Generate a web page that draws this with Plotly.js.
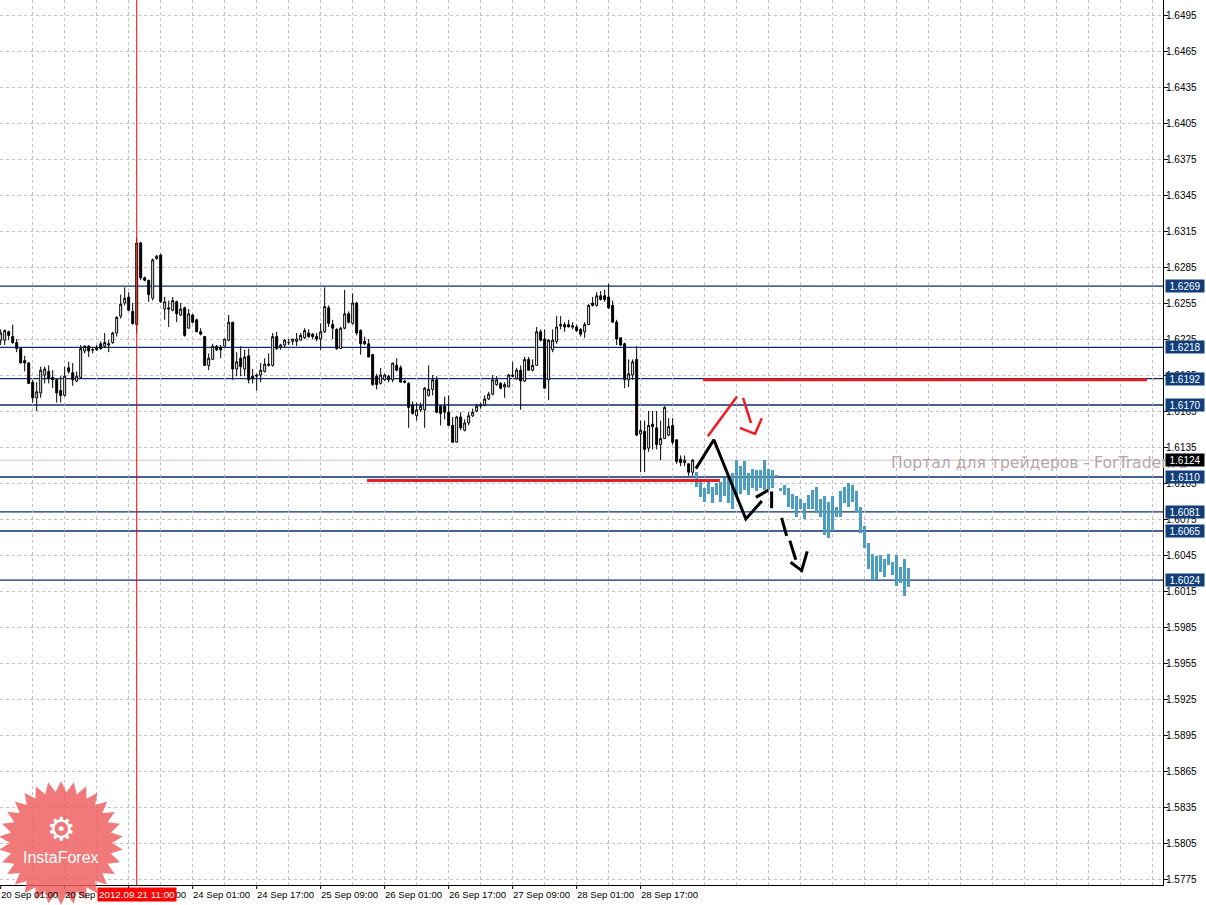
<!DOCTYPE html>
<html>
<head>
<meta charset="utf-8">
<script src="https://cdn.plot.ly/plotly-3.0.1.min.js"></script>
<style>html,body{margin:0;padding:0;background:#fff;}#chart{width:1206px;height:905px;}</style>
</head>
<body>
<div id="chart"></div>
<script>
// ---------- DATA (GBPUSD H1, 20–28 Sep 2012) ----------
const openP = [1.6224,1.6224,1.6231,1.6227,1.6222,1.6217,1.6207,1.6205,1.6189,1.6176,
1.6180,1.6195,1.6198,1.6193,1.6191,1.6182,1.6178,1.6201,1.6197,1.6190,
1.6193,1.6215,1.6219,1.6216,1.6216,1.6221,1.6219,1.6220,1.6222,1.6230,
1.6244,1.6255,1.6260,1.6248,1.6237,1.6305,1.6276,1.6274,1.6259,1.6292,
1.6295,1.6250,1.6251,1.6249,1.6256,1.6245,1.6251,1.6234,1.6245,1.6241,
1.6231,1.6227,1.6203,1.6208,1.6219,1.6218,1.6219,1.6224,1.6239,1.6200,
1.6209,1.6200,1.6211,1.6194,1.6194,1.6195,1.6198,1.6203,1.6203,1.6227,
1.6218,1.6220,1.6222,1.6223,1.6223,1.6224,1.6226,1.6230,1.6229,1.6227,
1.6225,1.6231,1.6251,1.6237,1.6233,1.6217,1.6234,1.6246,1.6238,1.6255,
1.6232,1.6223,1.6221,1.6212,1.6194,1.6188,1.6191,1.6194,1.6191,1.6203,
1.6201,1.6190,1.6188,1.6170,1.6161,1.6166,1.6166,1.6178,1.6183,1.6191,
1.6169,1.6169,1.6164,1.6153,1.6139,1.6160,1.6149,1.6155,1.6161,1.6165,
1.6169,1.6170,1.6175,1.6179,1.6187,1.6188,1.6185,1.6185,1.6195,1.6192,
1.6199,1.6190,1.6208,1.6199,1.6203,1.6231,1.6225,1.6191,1.6216,1.6223,
1.6237,1.6237,1.6237,1.6236,1.6235,1.6233,1.6231,1.6237,1.6255,1.6253,
1.6261,1.6261,1.6260,1.6253,1.6239,1.6226,1.6221,1.6191,1.6195,1.6208,
1.6146,1.6148,1.6134,1.6154,1.6151,1.6137,1.6142,1.6145,1.6153,1.6141,
1.6125,1.6122,1.6121,1.6114];
const highP = [1.6233,1.6233,1.6232,1.6237,1.6225,1.6218,1.6211,1.6206,1.6191,1.6189,
1.6202,1.6202,1.6203,1.6199,1.6192,1.6194,1.6202,1.6206,1.6205,1.6198,
1.6220,1.6220,1.6220,1.6218,1.6220,1.6223,1.6230,1.6224,1.6231,1.6244,
1.6262,1.6268,1.6264,1.6255,1.6309,1.6306,1.6277,1.6274,1.6292,1.6295,
1.6296,1.6260,1.6257,1.6260,1.6257,1.6255,1.6252,1.6250,1.6246,1.6242,
1.6234,1.6227,1.6213,1.6221,1.6220,1.6220,1.6225,1.6245,1.6239,1.6214,
1.6219,1.6216,1.6217,1.6200,1.6196,1.6205,1.6209,1.6213,1.6230,1.6231,
1.6221,1.6225,1.6225,1.6225,1.6230,1.6230,1.6234,1.6233,1.6230,1.6230,
1.6238,1.6268,1.6253,1.6241,1.6234,1.6235,1.6266,1.6248,1.6263,1.6256,
1.6233,1.6227,1.6225,1.6212,1.6196,1.6201,1.6196,1.6195,1.6205,1.6209,
1.6203,1.6191,1.6189,1.6173,1.6172,1.6172,1.6185,1.6203,1.6195,1.6194,
1.6170,1.6177,1.6178,1.6160,1.6161,1.6164,1.6158,1.6164,1.6167,1.6171,
1.6172,1.6178,1.6181,1.6195,1.6194,1.6189,1.6189,1.6196,1.6206,1.6201,
1.6203,1.6210,1.6210,1.6208,1.6235,1.6233,1.6233,1.6225,1.6233,1.6244,
1.6244,1.6239,1.6241,1.6239,1.6237,1.6234,1.6239,1.6254,1.6260,1.6264,
1.6265,1.6266,1.6271,1.6257,1.6241,1.6226,1.6222,1.6208,1.6208,1.6219,
1.6157,1.6157,1.6165,1.6165,1.6165,1.6157,1.6169,1.6159,1.6159,1.6141,
1.6128,1.6128,1.6121,1.6125];
const lowP = [1.6220,1.6220,1.6224,1.6221,1.6214,1.6205,1.6198,1.6188,1.6172,1.6165,
1.6176,1.6188,1.6188,1.6184,1.6172,1.6172,1.6177,1.6196,1.6186,1.6189,
1.6192,1.6213,1.6210,1.6213,1.6215,1.6216,1.6218,1.6214,1.6221,1.6227,
1.6242,1.6253,1.6248,1.6237,1.6230,1.6274,1.6273,1.6256,1.6257,1.6291,
1.6255,1.6241,1.6235,1.6248,1.6239,1.6244,1.6227,1.6234,1.6238,1.6231,
1.6228,1.6203,1.6199,1.6208,1.6215,1.6209,1.6219,1.6223,1.6191,1.6194,
1.6194,1.6194,1.6188,1.6188,1.6182,1.6189,1.6197,1.6202,1.6202,1.6216,
1.6216,1.6218,1.6220,1.6220,1.6219,1.6224,1.6225,1.6226,1.6225,1.6223,
1.6216,1.6230,1.6235,1.6225,1.6216,1.6217,1.6233,1.6238,1.6237,1.6228,
1.6212,1.6220,1.6210,1.6186,1.6183,1.6187,1.6190,1.6189,1.6189,1.6198,
1.6189,1.6188,1.6151,1.6162,1.6157,1.6164,1.6151,1.6177,1.6178,1.6163,
1.6153,1.6158,1.6153,1.6139,1.6139,1.6149,1.6148,1.6153,1.6160,1.6164,
1.6167,1.6169,1.6174,1.6178,1.6186,1.6183,1.6176,1.6185,1.6193,1.6191,
1.6166,1.6189,1.6199,1.6198,1.6203,1.6223,1.6184,1.6174,1.6214,1.6221,
1.6233,1.6231,1.6235,1.6233,1.6231,1.6227,1.6226,1.6237,1.6252,1.6252,
1.6257,1.6256,1.6250,1.6239,1.6220,1.6219,1.6184,1.6185,1.6191,1.6144,
1.6114,1.6114,1.6131,1.6133,1.6133,1.6124,1.6142,1.6144,1.6137,1.6121,
1.6119,1.6119,1.6111,1.6111];
const closeP = [1.6230,1.6232,1.6228,1.6222,1.6217,1.6205,1.6205,1.6188,1.6176,1.6181,
1.6199,1.6200,1.6192,1.6191,1.6180,1.6178,1.6194,1.6198,1.6191,1.6194,
1.6217,1.6219,1.6215,1.6216,1.6218,1.6217,1.6222,1.6221,1.6230,1.6243,
1.6254,1.6259,1.6249,1.6238,1.6305,1.6276,1.6274,1.6262,1.6291,1.6294,
1.6256,1.6256,1.6250,1.6257,1.6246,1.6250,1.6228,1.6246,1.6239,1.6231,
1.6229,1.6203,1.6209,1.6219,1.6216,1.6216,1.6225,1.6239,1.6200,1.6206,
1.6202,1.6210,1.6191,1.6192,1.6195,1.6199,1.6204,1.6204,1.6227,1.6217,
1.6220,1.6224,1.6222,1.6225,1.6225,1.6228,1.6232,1.6227,1.6227,1.6225,
1.6231,1.6252,1.6238,1.6234,1.6217,1.6234,1.6246,1.6239,1.6255,1.6230,
1.6221,1.6221,1.6210,1.6187,1.6187,1.6195,1.6195,1.6191,1.6205,1.6199,
1.6189,1.6189,1.6168,1.6163,1.6166,1.6169,1.6184,1.6183,1.6191,1.6164,
1.6163,1.6164,1.6153,1.6139,1.6160,1.6151,1.6155,1.6161,1.6164,1.6169,
1.6170,1.6175,1.6179,1.6191,1.6191,1.6184,1.6187,1.6195,1.6194,1.6199,
1.6190,1.6208,1.6199,1.6203,1.6231,1.6224,1.6184,1.6224,1.6224,1.6235,
1.6236,1.6235,1.6235,1.6235,1.6232,1.6229,1.6237,1.6253,1.6253,1.6261,
1.6258,1.6258,1.6251,1.6239,1.6225,1.6220,1.6191,1.6196,1.6206,1.6145,
1.6149,1.6133,1.6153,1.6152,1.6137,1.6142,1.6168,1.6152,1.6139,1.6123,
1.6122,1.6124,1.6114,1.6124];

// forecast (projection) bars, starting right after the last candle
const forecastStart = 174;
const forecastHigh = [1.6114,1.6106,1.6101,1.6106,1.6102,1.6105,1.6106,1.6109,1.6110,1.6113,
1.6124,1.6119,1.6123,1.6113,1.6117,1.6116,1.6116,1.6124,1.6117,1.6116,
1.6112,1.6101,1.6103,1.6101,1.6096,1.6094,1.6092,1.6088,1.6095,1.6099,
1.6102,1.6092,1.6094,1.6089,1.6094,1.6085,1.6098,1.6102,1.6105,1.6103,
1.6098,1.6085,1.6069,1.6055,1.6046,1.6044,1.6045,1.6042,1.6046,1.6039,
1.6045,1.6035,1.6042,1.6034];
const forecastLow = [1.6102,1.6093,1.6089,1.6096,1.6088,1.6095,1.6089,1.6094,1.6088,1.6083,
1.6094,1.6096,1.6099,1.6095,1.6101,1.6098,1.6101,1.6099,1.6099,1.6101,
1.6110,1.6098,1.6095,1.6085,1.6083,1.6077,1.6083,1.6075,1.6083,1.6083,
1.6080,1.6077,1.6062,1.6059,1.6065,1.6077,1.6077,1.6088,1.6085,1.6089,
1.6081,1.6063,1.6051,1.6033,1.6024,1.6024,1.6031,1.6027,1.6037,1.6028,
1.6019,1.6022,1.6011,1.6018];

// x-axis time labels (bar index -> label)
const timeIdx = [0,16,32,48,64,80,96,112,128,144,160];
const timeLabels = ["20 Sep 01:00","20 Sep 17:00","21 Sep 09:00","24 Sep 01:00","24 Sep 17:00",
  "25 Sep 09:00","26 Sep 01:00","26 Sep 17:00","27 Sep 09:00","28 Sep 01:00","28 Sep 17:00"];

// horizontal support/resistance levels
const levels = [1.6269,1.6218,1.6192,1.6170,1.6110,1.6081,1.6065,1.6024];
const bidPrice = 1.6124;

// vertical marker
const markerIdx = 34;
const markerLabel = "2012.09.21 11:00";

// red trend lines
const trendStart = [175.6, 91.6];
const trendEnd = [286.6, 179.8];
const trendPrice = [1.6191, 1.6107];

// hand-drawn strokes (bar index, price), null separates strokes
const redStrokeX = [176.8,184.1,null,185.6,187.6,null,184.8,188.6,190.3];
const redStrokeY = [1.6144,1.6177,null,1.6176,1.6155,null,1.6151,1.6146,1.6159];
const blackStrokeX = [173.8,178.3,186.3,190.3,null,188.8,191.9,null,192.75,192.75];
const blackStrokeY = [1.6117,1.6141,1.6075,1.6090,null,1.6093,1.6099,null,1.6098,1.6084];
const blackDashX = [195.25,196.5,null,197.3,198.8,null,197.5,200.25,201.65];
const blackDashY = [1.6076,1.6061,null,1.6057,1.6041,null,1.6039,1.6032,1.6048];

const watermark = "Портал для трейдеров - ForTrader.ru";
const logoText = "InstaForex";

// ---------- BUILD ----------
const PW = 1163, PH = 885;   // plot area size in px
const idx = openP.map((_, i) => i);
const fIdx = forecastHigh.map((_, k) => forecastStart + k);
const fBase = forecastLow;
const fLen = forecastHigh.map((h, k) => h - forecastLow[k]);

const trendX = [], trendY = [];
trendStart.forEach((s, k) => { trendX.push(s, trendEnd[k], null); trendY.push(trendPrice[k], trendPrice[k], null); });

const gridCol = '#cbbccd';
const FAM = 'Liberation Sans, Arial, sans-serif';
const lblFont = {family: FAM, size: 9.6, color: '#000'};
const axFont = {family: FAM, size: 10, color: '#000'};

const traces = [
  {type: 'candlestick', x: idx, open: openP, high: highP, low: lowP, close: closeP,
   increasing: {line: {color: '#000', width: 1}, fillcolor: '#ffffff'},
   decreasing: {line: {color: '#000', width: 1}, fillcolor: '#000000'},
   whiskerwidth: 0, hoverinfo: 'skip', showlegend: false},
  {type: 'bar', x: fIdx, base: fBase, y: fLen, width: 0.72,
   marker: {color: '#4b9dc2', line: {width: 0}}, hoverinfo: 'skip', showlegend: false},
  {type: 'scatter', mode: 'lines', x: trendX, y: trendY, connectgaps: false,
   line: {color: '#e41e26', width: 3}, hoverinfo: 'skip', showlegend: false},
  {type: 'scatter', mode: 'lines', x: redStrokeX, y: redStrokeY, connectgaps: false,
   line: {color: '#ee1c25', width: 2.5}, hoverinfo: 'skip', showlegend: false},
  {type: 'scatter', mode: 'lines', x: blackStrokeX, y: blackStrokeY, connectgaps: false,
   line: {color: '#000', width: 3}, hoverinfo: 'skip', showlegend: false},
  {type: 'scatter', mode: 'lines', x: blackDashX, y: blackDashY, connectgaps: false,
   line: {color: '#000', width: 3}, hoverinfo: 'skip', showlegend: false}
];

const shapes = [];
levels.forEach(v => shapes.push({type: 'line', xref: 'paper', x0: 0, x1: 1, yref: 'y', y0: v, y1: v,
  line: {color: '#0b2f6e', width: 1.3}, layer: 'between'}));
shapes.push({type: 'line', xref: 'paper', x0: 0, x1: 1, yref: 'y', y0: bidPrice, y1: bidPrice,
  line: {color: '#c4c4c4', width: 1}, layer: 'between'});
shapes.push({type: 'line', xref: 'x', x0: markerIdx, x1: markerIdx, yref: 'paper', y0: 0, y1: 1,
  line: {color: '#ff0000', width: 1}, layer: 'above'});
timeIdx.forEach(t => shapes.push({type: 'line', xref: 'x', x0: t, x1: t, yref: 'paper', y0: 0, y1: -4 / PH,
  line: {color: '#000', width: 1}, layer: 'above'}));

// InstaForex logo badge (starburst)
(function () {
  const cx = 61, cy = 843, rO = 62, rI = 51, N = 30;
  let d = '';
  for (let k = 0; k < 2 * N; k++) {
    const r = k % 2 === 0 ? rO : rI;
    const a = -Math.PI / 2 + k * Math.PI / N;
    const px = cx + r * Math.cos(a), py = cy + r * Math.sin(a);
    d += (k === 0 ? 'M' : 'L') + (px / PW).toFixed(5) + ',' + ((PH - py) / PH).toFixed(5);
  }
  shapes.push({type: 'path', xref: 'paper', yref: 'paper', path: d + 'Z',
    fillcolor: '#ef5f5f', opacity: 0.84, line: {width: 0}, layer: 'above'});
})();

const annotations = [];
annotations.push({xref: 'paper', x: 889 / PW, xanchor: 'left', yref: 'y', y: 1.61215, yanchor: 'middle',
  text: watermark, showarrow: false, font: {family: 'DejaVu Sans, sans-serif', size: 15.6, color: '#b6a6aa'}});
timeIdx.forEach((t, k) => annotations.push({xref: 'x', x: t, xanchor: 'left', xshift: -2, yref: 'paper', y: -9.5 / PH,
  yanchor: 'middle', text: timeLabels[k], showarrow: false, font: lblFont}));
annotations.push({xref: 'x', x: markerIdx, xanchor: 'center', yref: 'paper', y: -9.5 / PH, yanchor: 'middle',
  text: markerLabel, showarrow: false, bgcolor: '#ff0000', borderpad: 1,
  font: {family: FAM, size: 9.8, color: '#ffffff'}});
levels.forEach(v => annotations.push({xref: 'paper', x: 1, xshift: 2, xanchor: 'left', yref: 'y', y: v, yanchor: 'middle',
  text: v.toFixed(4), showarrow: false, bgcolor: '#123f7a', width: 36, height: 10, borderpad: 1, align: 'center',
  font: {family: FAM, size: 10, color: '#ffffff'}}));
annotations.push({xref: 'paper', x: 1, xshift: 2, xanchor: 'left', yref: 'y', y: bidPrice, yanchor: 'middle',
  text: bidPrice.toFixed(4), showarrow: false, bgcolor: '#000000', width: 36, height: 10, borderpad: 1, align: 'center',
  font: {family: FAM, size: 10, color: '#ffffff'}});
annotations.push({xref: 'paper', x: 61 / PW, xanchor: 'center', yref: 'paper', y: (PH - 829) / PH, yanchor: 'middle',
  text: '⚙', showarrow: false, font: {family: 'DejaVu Sans, sans-serif', size: 32, color: '#ffffff'}});
annotations.push({xref: 'paper', x: 61 / PW, xanchor: 'center', yref: 'paper', y: (PH - 857) / PH, yanchor: 'middle',
  text: logoText, showarrow: false, font: {family: FAM, size: 16, color: '#ffffff'}});

const layout = {
  width: 1206, height: 905,
  margin: {l: 0, r: 43, t: 0, b: 20, pad: 0},
  paper_bgcolor: '#ffffff', plot_bgcolor: '#ffffff',
  font: lblFont,
  showlegend: false,
  dragmode: false,
  xaxis: {range: [-0.175, 290.6], tickmode: 'linear', tick0: 0, dtick: 8,
    showgrid: true, gridcolor: gridCol, gridwidth: 1, griddash: '3px,3px',
    ticks: '', showticklabels: false, zeroline: false,
    showline: true, linecolor: '#000', linewidth: 1,
    rangeslider: {visible: false}, fixedrange: true},
  yaxis: {side: 'right', range: [1.5770, 1.65075], tickmode: 'linear', tick0: 1.5775, dtick: 0.003,
    tickformat: '.4f', showgrid: true, gridcolor: gridCol, gridwidth: 1, griddash: '3px,3px',
    ticks: 'outside', ticklen: 4, tickcolor: '#000', zeroline: false, ticklabelstandoff: -4,
    showline: true, linecolor: '#000', linewidth: 1, tickfont: axFont, fixedrange: true},
  shapes: shapes,
  annotations: annotations,
  bargap: 0
};

Plotly.newPlot('chart', traces, layout, {displayModeBar: false, staticPlot: true});
</script>
</body>
</html>
